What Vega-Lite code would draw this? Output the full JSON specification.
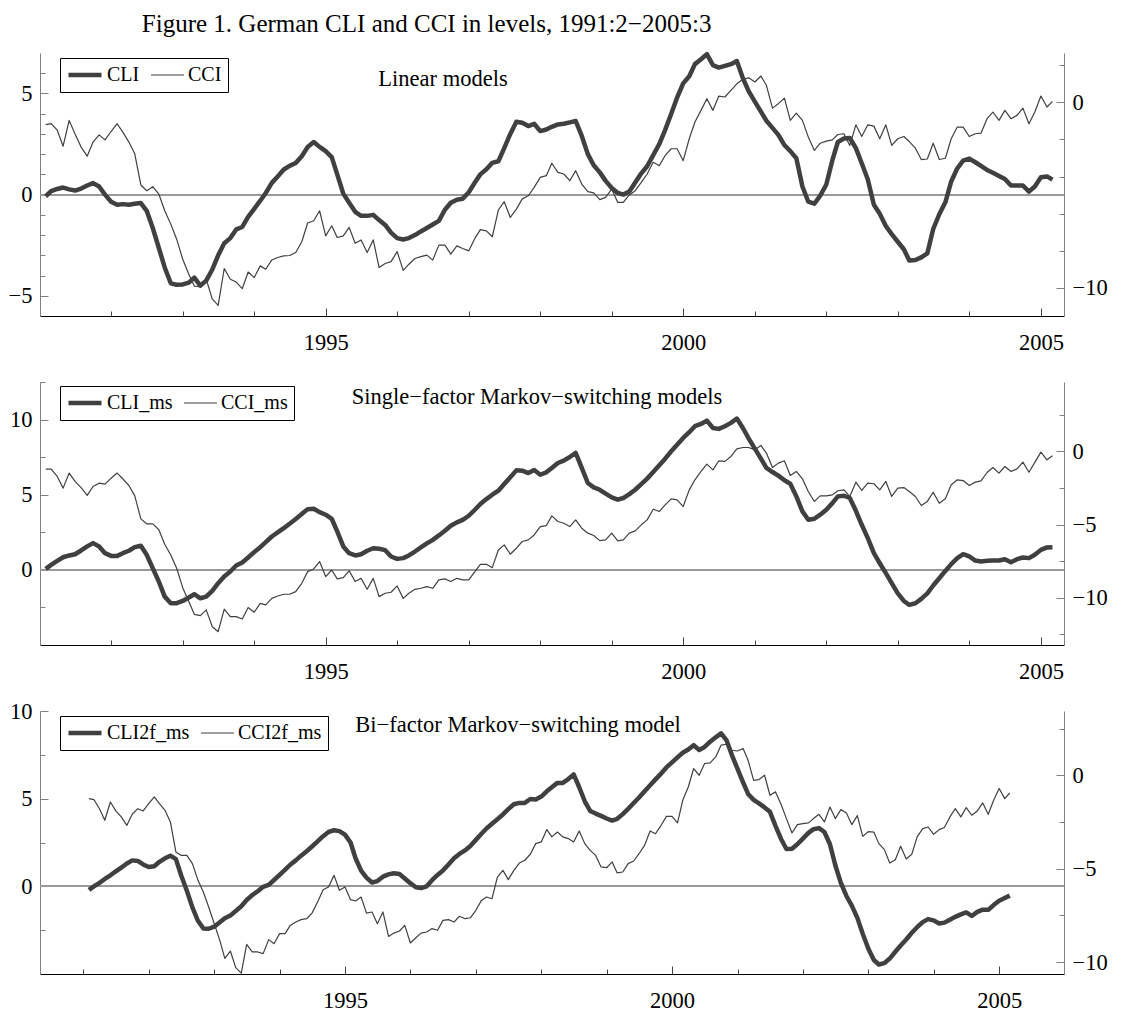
{
"$schema": "https://vega.github.io/schema/vega-lite/v6.json",
"padding": {"left": 8, "top": 11, "right": 5, "bottom": 5},
"title": {"text": "Figure 1. German CLI and CCI in levels, 1991:2−2005:3", "anchor": "middle", "dx": -131, "offset": 15, "font": "Liberation Serif", "fontSize": 25, "fontWeight": "normal", "color": "#000000"},
"data": {"values": [
{"t":"1991-02-01","CLI":-0.08,"CCI":-1.2,"CLI_ms":0.07,"CCI_ms":-1.21,"CLI2f_ms":-0.2,"CCI2f_ms":-1.25},
{"t":"1991-03-01","CLI":0.17,"CCI":-1.15,"CLI_ms":0.33,"CCI_ms":-1.21,"CLI2f_ms":0.0,"CCI2f_ms":-1.3},
{"t":"1991-04-01","CLI":0.28,"CCI":-1.5,"CLI_ms":0.6,"CCI_ms":-1.71,"CLI2f_ms":0.2,"CCI2f_ms":-1.79},
{"t":"1991-05-01","CLI":0.35,"CCI":-2.36,"CLI_ms":0.84,"CCI_ms":-2.51,"CLI2f_ms":0.42,"CCI2f_ms":-2.41},
{"t":"1991-06-01","CLI":0.26,"CCI":-0.97,"CLI_ms":0.96,"CCI_ms":-1.48,"CLI2f_ms":0.63,"CCI2f_ms":-1.43},
{"t":"1991-07-01","CLI":0.2,"CCI":-1.7,"CLI_ms":1.04,"CCI_ms":-2.05,"CLI2f_ms":0.85,"CCI2f_ms":-1.91},
{"t":"1991-08-01","CLI":0.3,"CCI":-2.41,"CLI_ms":1.29,"CCI_ms":-2.47,"CLI2f_ms":1.07,"CCI2f_ms":-2.23},
{"t":"1991-09-01","CLI":0.45,"CCI":-2.9,"CLI_ms":1.56,"CCI_ms":-3.01,"CLI2f_ms":1.3,"CCI2f_ms":-2.68},
{"t":"1991-10-01","CLI":0.57,"CCI":-2.14,"CLI_ms":1.78,"CCI_ms":-2.4,"CLI2f_ms":1.48,"CCI2f_ms":-2.09},
{"t":"1991-11-01","CLI":0.4,"CCI":-1.75,"CLI_ms":1.56,"CCI_ms":-2.17,"CLI2f_ms":1.45,"CCI2f_ms":-1.79},
{"t":"1991-12-01","CLI":0.0,"CCI":-2.02,"CLI_ms":1.11,"CCI_ms":-2.24,"CLI2f_ms":1.25,"CCI2f_ms":-1.91},
{"t":"1992-01-01","CLI":-0.35,"CCI":-1.57,"CLI_ms":0.93,"CCI_ms":-1.83,"CLI2f_ms":1.1,"CCI2f_ms":-1.52},
{"t":"1992-02-01","CLI":-0.5,"CCI":-1.15,"CLI_ms":0.93,"CCI_ms":-1.48,"CLI2f_ms":1.15,"CCI2f_ms":-1.16},
{"t":"1992-03-01","CLI":-0.47,"CCI":-1.6,"CLI_ms":1.11,"CCI_ms":-1.87,"CLI2f_ms":1.4,"CCI2f_ms":-1.52},
{"t":"1992-04-01","CLI":-0.5,"CCI":-2.14,"CLI_ms":1.27,"CCI_ms":-2.33,"CLI2f_ms":1.6,"CCI2f_ms":-1.88},
{"t":"1992-05-01","CLI":-0.45,"CCI":-2.77,"CLI_ms":1.51,"CCI_ms":-3.04,"CLI2f_ms":1.75,"CCI2f_ms":-2.5},
{"t":"1992-06-01","CLI":-0.42,"CCI":-4.45,"CLI_ms":1.6,"CCI_ms":-4.61,"CLI2f_ms":1.55,"CCI2f_ms":-4.11},
{"t":"1992-07-01","CLI":-0.8,"CCI":-4.76,"CLI_ms":1.0,"CCI_ms":-4.95,"CLI2f_ms":0.6,"CCI2f_ms":-4.29},
{"t":"1992-08-01","CLI":-1.65,"CCI":-4.54,"CLI_ms":0.11,"CCI_ms":-4.95,"CLI2f_ms":-0.25,"CCI2f_ms":-4.29},
{"t":"1992-09-01","CLI":-2.64,"CCI":-4.94,"CLI_ms":-0.78,"CCI_ms":-5.36,"CLI2f_ms":-1.2,"CCI2f_ms":-4.73},
{"t":"1992-10-01","CLI":-3.6,"CCI":-5.84,"CLI_ms":-1.78,"CCI_ms":-6.35,"CLI2f_ms":-1.95,"CCI2f_ms":-5.59},
{"t":"1992-11-01","CLI":-4.38,"CCI":-6.56,"CLI_ms":-2.22,"CCI_ms":-7.08,"CLI2f_ms":-2.4,"CCI2f_ms":-6.25},
{"t":"1992-12-01","CLI":-4.46,"CCI":-7.37,"CLI_ms":-2.22,"CCI_ms":-7.99,"CLI2f_ms":-2.42,"CCI2f_ms":-7.05},
{"t":"1993-01-01","CLI":-4.44,"CCI":-8.45,"CLI_ms":-2.07,"CCI_ms":-9.32,"CLI2f_ms":-2.3,"CCI2f_ms":-7.95},
{"t":"1993-02-01","CLI":-4.35,"CCI":-9.26,"CLI_ms":-1.84,"CCI_ms":-10.27,"CLI2f_ms":-2.05,"CCI2f_ms":-8.84},
{"t":"1993-03-01","CLI":-4.1,"CCI":-9.9,"CLI_ms":-1.62,"CCI_ms":-11.14,"CLI2f_ms":-1.82,"CCI2f_ms":-9.8},
{"t":"1993-04-01","CLI":-4.5,"CCI":-9.93,"CLI_ms":-1.89,"CCI_ms":-11.23,"CLI2f_ms":-1.66,"CCI2f_ms":-9.41},
{"t":"1993-05-01","CLI":-4.25,"CCI":-9.53,"CLI_ms":-1.78,"CCI_ms":-10.84,"CLI2f_ms":-1.41,"CCI2f_ms":-10.3},
{"t":"1993-06-01","CLI":-3.7,"CCI":-10.6,"CLI_ms":-1.4,"CCI_ms":-11.99,"CLI2f_ms":-1.14,"CCI2f_ms":-10.59},
{"t":"1993-07-01","CLI":-3.0,"CCI":-10.94,"CLI_ms":-0.89,"CCI_ms":-12.33,"CLI2f_ms":-0.78,"CCI2f_ms":-9.05},
{"t":"1993-08-01","CLI":-2.4,"CCI":-8.95,"CLI_ms":-0.44,"CCI_ms":-10.78,"CLI2f_ms":-0.5,"CCI2f_ms":-9.46},
{"t":"1993-09-01","CLI":-2.15,"CCI":-9.53,"CLI_ms":-0.11,"CCI_ms":-11.3,"CLI2f_ms":-0.28,"CCI2f_ms":-9.46},
{"t":"1993-10-01","CLI":-1.72,"CCI":-9.68,"CLI_ms":0.29,"CCI_ms":-11.3,"CLI2f_ms":-0.03,"CCI2f_ms":-9.55},
{"t":"1993-11-01","CLI":-1.6,"CCI":-10.04,"CLI_ms":0.49,"CCI_ms":-11.46,"CLI2f_ms":0.08,"CCI2f_ms":-8.8},
{"t":"1993-12-01","CLI":-1.1,"CCI":-9.14,"CLI_ms":0.82,"CCI_ms":-10.68,"CLI2f_ms":0.36,"CCI2f_ms":-9.02},
{"t":"1994-01-01","CLI":-0.7,"CCI":-9.44,"CLI_ms":1.18,"CCI_ms":-11.0,"CLI2f_ms":0.66,"CCI2f_ms":-8.48},
{"t":"1994-02-01","CLI":-0.3,"CCI":-8.81,"CLI_ms":1.51,"CCI_ms":-10.39,"CLI2f_ms":0.95,"CCI2f_ms":-8.48},
{"t":"1994-03-01","CLI":0.08,"CCI":-8.99,"CLI_ms":1.84,"CCI_ms":-10.5,"CLI2f_ms":1.23,"CCI2f_ms":-8.04},
{"t":"1994-04-01","CLI":0.58,"CCI":-8.49,"CLI_ms":2.22,"CCI_ms":-10.05,"CLI2f_ms":1.48,"CCI2f_ms":-7.86},
{"t":"1994-05-01","CLI":0.9,"CCI":-8.36,"CLI_ms":2.49,"CCI_ms":-9.89,"CLI2f_ms":1.75,"CCI2f_ms":-7.73},
{"t":"1994-06-01","CLI":1.24,"CCI":-8.27,"CLI_ms":2.78,"CCI_ms":-9.77,"CLI2f_ms":2.0,"CCI2f_ms":-7.68},
{"t":"1994-07-01","CLI":1.42,"CCI":-8.25,"CLI_ms":3.07,"CCI_ms":-9.77,"CLI2f_ms":2.27,"CCI2f_ms":-7.38},
{"t":"1994-08-01","CLI":1.56,"CCI":-8.09,"CLI_ms":3.38,"CCI_ms":-9.59,"CLI2f_ms":2.56,"CCI2f_ms":-6.79},
{"t":"1994-09-01","CLI":1.9,"CCI":-7.51,"CLI_ms":3.71,"CCI_ms":-9.02,"CLI2f_ms":2.86,"CCI2f_ms":-6.13},
{"t":"1994-10-01","CLI":2.35,"CCI":-6.5,"CLI_ms":4.04,"CCI_ms":-8.22,"CLI2f_ms":3.1,"CCI2f_ms":-5.98},
{"t":"1994-11-01","CLI":2.6,"CCI":-6.38,"CLI_ms":4.07,"CCI_ms":-8.04,"CLI2f_ms":3.2,"CCI2f_ms":-5.36},
{"t":"1994-12-01","CLI":2.36,"CCI":-5.84,"CLI_ms":3.84,"CCI_ms":-7.53,"CLI2f_ms":3.15,"CCI2f_ms":-6.16},
{"t":"1995-01-01","CLI":2.15,"CCI":-7.19,"CLI_ms":3.67,"CCI_ms":-8.56,"CLI2f_ms":2.95,"CCI2f_ms":-5.98},
{"t":"1995-02-01","CLI":1.85,"CCI":-6.65,"CLI_ms":3.4,"CCI_ms":-8.11,"CLI2f_ms":2.5,"CCI2f_ms":-6.66},
{"t":"1995-03-01","CLI":1.0,"CCI":-7.28,"CLI_ms":2.56,"CCI_ms":-8.72,"CLI2f_ms":1.6,"CCI2f_ms":-6.73},
{"t":"1995-04-01","CLI":0.05,"CCI":-7.19,"CLI_ms":1.56,"CCI_ms":-8.63,"CLI2f_ms":0.9,"CCI2f_ms":-6.52},
{"t":"1995-05-01","CLI":-0.4,"CCI":-6.74,"CLI_ms":1.11,"CCI_ms":-8.17,"CLI2f_ms":0.5,"CCI2f_ms":-7.38},
{"t":"1995-06-01","CLI":-0.85,"CCI":-7.59,"CLI_ms":0.96,"CCI_ms":-8.9,"CLI2f_ms":0.22,"CCI2f_ms":-7.32},
{"t":"1995-07-01","CLI":-1.05,"CCI":-7.41,"CLI_ms":1.04,"CCI_ms":-8.68,"CLI2f_ms":0.3,"CCI2f_ms":-7.95},
{"t":"1995-08-01","CLI":-1.05,"CCI":-8.09,"CLI_ms":1.27,"CCI_ms":-9.43,"CLI2f_ms":0.55,"CCI2f_ms":-7.32},
{"t":"1995-09-01","CLI":-1.0,"CCI":-7.41,"CLI_ms":1.44,"CCI_ms":-8.68,"CLI2f_ms":0.68,"CCI2f_ms":-8.63},
{"t":"1995-10-01","CLI":-1.26,"CCI":-8.9,"CLI_ms":1.4,"CCI_ms":-9.93,"CLI2f_ms":0.75,"CCI2f_ms":-8.45},
{"t":"1995-11-01","CLI":-1.5,"CCI":-8.68,"CLI_ms":1.31,"CCI_ms":-9.7,"CLI2f_ms":0.7,"CCI2f_ms":-8.34},
{"t":"1995-12-01","CLI":-1.88,"CCI":-8.58,"CLI_ms":0.89,"CCI_ms":-9.63,"CLI2f_ms":0.45,"CCI2f_ms":-8.04},
{"t":"1996-01-01","CLI":-2.15,"CCI":-8.04,"CLI_ms":0.73,"CCI_ms":-9.2,"CLI2f_ms":0.18,"CCI2f_ms":-8.98},
{"t":"1996-02-01","CLI":-2.22,"CCI":-9.05,"CLI_ms":0.78,"CCI_ms":-10.05,"CLI2f_ms":-0.05,"CCI2f_ms":-8.7},
{"t":"1996-03-01","CLI":-2.15,"CCI":-8.72,"CLI_ms":0.96,"CCI_ms":-9.7,"CLI2f_ms":-0.1,"CCI2f_ms":-8.45},
{"t":"1996-04-01","CLI":-2.0,"CCI":-8.41,"CLI_ms":1.22,"CCI_ms":-9.43,"CLI2f_ms":0.0,"CCI2f_ms":-8.39},
{"t":"1996-05-01","CLI":-1.82,"CCI":-8.31,"CLI_ms":1.49,"CCI_ms":-9.36,"CLI2f_ms":0.35,"CCI2f_ms":-8.21},
{"t":"1996-06-01","CLI":-1.65,"CCI":-8.23,"CLI_ms":1.76,"CCI_ms":-9.25,"CLI2f_ms":0.65,"CCI2f_ms":-8.3},
{"t":"1996-07-01","CLI":-1.48,"CCI":-8.5,"CLI_ms":2.0,"CCI_ms":-9.36,"CLI2f_ms":0.9,"CCI2f_ms":-7.77},
{"t":"1996-08-01","CLI":-1.3,"CCI":-7.69,"CLI_ms":2.29,"CCI_ms":-8.79,"CLI2f_ms":1.25,"CCI2f_ms":-7.73},
{"t":"1996-09-01","CLI":-0.75,"CCI":-7.69,"CLI_ms":2.6,"CCI_ms":-8.72,"CLI2f_ms":1.6,"CCI2f_ms":-7.86},
{"t":"1996-10-01","CLI":-0.4,"CCI":-8.18,"CLI_ms":2.93,"CCI_ms":-8.9,"CLI2f_ms":1.85,"CCI2f_ms":-7.55},
{"t":"1996-11-01","CLI":-0.25,"CCI":-7.73,"CLI_ms":3.16,"CCI_ms":-8.68,"CLI2f_ms":2.05,"CCI2f_ms":-7.68},
{"t":"1996-12-01","CLI":-0.2,"CCI":-7.87,"CLI_ms":3.33,"CCI_ms":-8.79,"CLI2f_ms":2.3,"CCI2f_ms":-7.63},
{"t":"1997-01-01","CLI":0.12,"CCI":-8.0,"CLI_ms":3.6,"CCI_ms":-8.79,"CLI2f_ms":2.65,"CCI2f_ms":-7.23},
{"t":"1997-02-01","CLI":0.6,"CCI":-7.33,"CLI_ms":4.0,"CCI_ms":-8.22,"CLI2f_ms":3.0,"CCI2f_ms":-6.7},
{"t":"1997-03-01","CLI":1.0,"CCI":-6.86,"CLI_ms":4.38,"CCI_ms":-7.72,"CLI2f_ms":3.3,"CCI2f_ms":-6.52},
{"t":"1997-04-01","CLI":1.25,"CCI":-6.92,"CLI_ms":4.71,"CCI_ms":-7.72,"CLI2f_ms":3.57,"CCI2f_ms":-6.61},
{"t":"1997-05-01","CLI":1.57,"CCI":-7.24,"CLI_ms":5.0,"CCI_ms":-7.95,"CLI2f_ms":3.83,"CCI2f_ms":-5.45},
{"t":"1997-06-01","CLI":1.65,"CCI":-5.8,"CLI_ms":5.27,"CCI_ms":-6.74,"CLI2f_ms":4.1,"CCI2f_ms":-5.09},
{"t":"1997-07-01","CLI":2.3,"CCI":-5.35,"CLI_ms":5.71,"CCI_ms":-6.39,"CLI2f_ms":4.4,"CCI2f_ms":-5.59},
{"t":"1997-08-01","CLI":3.0,"CCI":-6.2,"CLI_ms":6.16,"CCI_ms":-7.03,"CLI2f_ms":4.68,"CCI2f_ms":-5.09},
{"t":"1997-09-01","CLI":3.6,"CCI":-5.75,"CLI_ms":6.62,"CCI_ms":-6.62,"CLI2f_ms":4.76,"CCI2f_ms":-4.7},
{"t":"1997-10-01","CLI":3.55,"CCI":-5.2,"CLI_ms":6.6,"CCI_ms":-6.16,"CLI2f_ms":4.76,"CCI2f_ms":-4.55},
{"t":"1997-11-01","CLI":3.39,"CCI":-5.03,"CLI_ms":6.44,"CCI_ms":-6.05,"CLI2f_ms":4.98,"CCI2f_ms":-4.23},
{"t":"1997-12-01","CLI":3.5,"CCI":-4.58,"CLI_ms":6.64,"CCI_ms":-5.71,"CLI2f_ms":4.95,"CCI2f_ms":-3.66},
{"t":"1998-01-01","CLI":3.14,"CCI":-4.04,"CLI_ms":6.33,"CCI_ms":-5.14,"CLI2f_ms":5.12,"CCI2f_ms":-3.57},
{"t":"1998-02-01","CLI":3.22,"CCI":-3.95,"CLI_ms":6.49,"CCI_ms":-5.07,"CLI2f_ms":5.42,"CCI2f_ms":-2.91},
{"t":"1998-03-01","CLI":3.35,"CCI":-3.28,"CLI_ms":6.78,"CCI_ms":-4.41,"CLI2f_ms":5.65,"CCI2f_ms":-3.3},
{"t":"1998-04-01","CLI":3.47,"CCI":-3.77,"CLI_ms":7.11,"CCI_ms":-4.79,"CLI2f_ms":5.9,"CCI2f_ms":-3.04},
{"t":"1998-05-01","CLI":3.5,"CCI":-3.86,"CLI_ms":7.27,"CCI_ms":-4.91,"CLI2f_ms":5.9,"CCI2f_ms":-3.3},
{"t":"1998-06-01","CLI":3.57,"CCI":-4.22,"CLI_ms":7.51,"CCI_ms":-5.14,"CLI2f_ms":6.12,"CCI2f_ms":-3.39},
{"t":"1998-07-01","CLI":3.64,"CCI":-3.68,"CLI_ms":7.78,"CCI_ms":-4.68,"CLI2f_ms":6.38,"CCI2f_ms":-3.57},
{"t":"1998-08-01","CLI":2.9,"CCI":-4.4,"CLI_ms":6.78,"CCI_ms":-5.25,"CLI2f_ms":5.65,"CCI2f_ms":-2.98},
{"t":"1998-09-01","CLI":2.0,"CCI":-4.81,"CLI_ms":5.78,"CCI_ms":-5.59,"CLI2f_ms":4.85,"CCI2f_ms":-3.66},
{"t":"1998-10-01","CLI":1.45,"CCI":-4.88,"CLI_ms":5.49,"CCI_ms":-5.75,"CLI2f_ms":4.3,"CCI2f_ms":-4.02},
{"t":"1998-11-01","CLI":1.1,"CCI":-5.24,"CLI_ms":5.33,"CCI_ms":-6.1,"CLI2f_ms":4.15,"CCI2f_ms":-4.29},
{"t":"1998-12-01","CLI":0.68,"CCI":-5.12,"CLI_ms":5.07,"CCI_ms":-6.05,"CLI2f_ms":4.02,"CCI2f_ms":-4.91},
{"t":"1999-01-01","CLI":0.33,"CCI":-4.67,"CLI_ms":4.82,"CCI_ms":-5.59,"CLI2f_ms":3.87,"CCI2f_ms":-4.95},
{"t":"1999-02-01","CLI":0.08,"CCI":-5.39,"CLI_ms":4.67,"CCI_ms":-6.12,"CLI2f_ms":3.75,"CCI2f_ms":-4.64},
{"t":"1999-03-01","CLI":0.0,"CCI":-5.39,"CLI_ms":4.78,"CCI_ms":-6.05,"CLI2f_ms":3.85,"CCI2f_ms":-5.23},
{"t":"1999-04-01","CLI":0.15,"CCI":-4.99,"CLI_ms":5.04,"CCI_ms":-5.59,"CLI2f_ms":4.12,"CCI2f_ms":-5.18},
{"t":"1999-05-01","CLI":0.6,"CCI":-4.76,"CLI_ms":5.33,"CCI_ms":-5.43,"CLI2f_ms":4.42,"CCI2f_ms":-4.73},
{"t":"1999-06-01","CLI":1.05,"CCI":-4.31,"CLI_ms":5.71,"CCI_ms":-5.02,"CLI2f_ms":4.75,"CCI2f_ms":-4.59},
{"t":"1999-07-01","CLI":1.4,"CCI":-3.86,"CLI_ms":6.07,"CCI_ms":-4.68,"CLI2f_ms":5.07,"CCI2f_ms":-4.2},
{"t":"1999-08-01","CLI":1.95,"CCI":-3.23,"CLI_ms":6.51,"CCI_ms":-3.95,"CLI2f_ms":5.42,"CCI2f_ms":-3.75},
{"t":"1999-09-01","CLI":2.5,"CCI":-3.41,"CLI_ms":6.96,"CCI_ms":-4.11,"CLI2f_ms":5.77,"CCI2f_ms":-2.98},
{"t":"1999-10-01","CLI":3.2,"CCI":-2.86,"CLI_ms":7.4,"CCI_ms":-3.65,"CLI2f_ms":6.1,"CCI2f_ms":-3.13},
{"t":"1999-11-01","CLI":4.0,"CCI":-2.5,"CLI_ms":7.89,"CCI_ms":-3.24,"CLI2f_ms":6.43,"CCI2f_ms":-2.68},
{"t":"1999-12-01","CLI":4.8,"CCI":-2.5,"CLI_ms":8.33,"CCI_ms":-3.31,"CLI2f_ms":6.78,"CCI2f_ms":-2.2},
{"t":"2000-01-01","CLI":5.5,"CCI":-3.14,"CLI_ms":8.78,"CCI_ms":-3.77,"CLI2f_ms":7.07,"CCI2f_ms":-2.2},
{"t":"2000-02-01","CLI":5.85,"CCI":-1.96,"CLI_ms":9.16,"CCI_ms":-2.63,"CLI2f_ms":7.36,"CCI2f_ms":-2.55},
{"t":"2000-03-01","CLI":6.45,"CCI":-1.06,"CLI_ms":9.56,"CCI_ms":-1.94,"CLI2f_ms":7.62,"CCI2f_ms":-1.34},
{"t":"2000-04-01","CLI":6.69,"CCI":-0.43,"CLI_ms":9.71,"CCI_ms":-1.37,"CLI2f_ms":7.8,"CCI2f_ms":-0.63},
{"t":"2000-05-01","CLI":6.94,"CCI":0.2,"CLI_ms":9.93,"CCI_ms":-0.87,"CLI2f_ms":8.05,"CCI2f_ms":0.36},
{"t":"2000-06-01","CLI":6.4,"CCI":-0.43,"CLI_ms":9.44,"CCI_ms":-1.26,"CLI2f_ms":7.78,"CCI2f_ms":0.0},
{"t":"2000-07-01","CLI":6.28,"CCI":0.34,"CLI_ms":9.38,"CCI_ms":-0.64,"CLI2f_ms":7.95,"CCI2f_ms":0.63},
{"t":"2000-08-01","CLI":6.36,"CCI":0.29,"CLI_ms":9.56,"CCI_ms":-0.68,"CLI2f_ms":8.25,"CCI2f_ms":0.66},
{"t":"2000-09-01","CLI":6.45,"CCI":0.65,"CLI_ms":9.78,"CCI_ms":-0.34,"CLI2f_ms":8.5,"CCI2f_ms":0.98},
{"t":"2000-10-01","CLI":6.6,"CCI":1.0,"CLI_ms":10.07,"CCI_ms":0.18,"CLI2f_ms":8.72,"CCI2f_ms":1.61},
{"t":"2000-11-01","CLI":5.75,"CCI":1.24,"CLI_ms":9.44,"CCI_ms":0.27,"CLI2f_ms":8.32,"CCI2f_ms":1.66},
{"t":"2000-12-01","CLI":5.1,"CCI":1.32,"CLI_ms":8.73,"CCI_ms":0.27,"CLI2f_ms":7.47,"CCI2f_ms":1.34},
{"t":"2001-01-01","CLI":4.6,"CCI":1.1,"CLI_ms":8.07,"CCI_ms":0.11,"CLI2f_ms":6.7,"CCI2f_ms":1.3},
{"t":"2001-02-01","CLI":4.1,"CCI":1.42,"CLI_ms":7.4,"CCI_ms":0.41,"CLI2f_ms":5.93,"CCI2f_ms":1.43},
{"t":"2001-03-01","CLI":3.65,"CCI":0.92,"CLI_ms":6.78,"CCI_ms":-0.11,"CLI2f_ms":5.27,"CCI2f_ms":0.8},
{"t":"2001-04-01","CLI":3.3,"CCI":-0.31,"CLI_ms":6.51,"CCI_ms":-1.1,"CLI2f_ms":4.93,"CCI2f_ms":-0.27},
{"t":"2001-05-01","CLI":2.95,"CCI":-0.07,"CLI_ms":6.27,"CCI_ms":-0.8,"CLI2f_ms":4.73,"CCI2f_ms":-0.23},
{"t":"2001-06-01","CLI":2.45,"CCI":0.23,"CLI_ms":5.96,"CCI_ms":-0.64,"CLI2f_ms":4.5,"CCI2f_ms":0.0},
{"t":"2001-07-01","CLI":2.15,"CCI":-0.97,"CLI_ms":5.73,"CCI_ms":-1.64,"CLI2f_ms":4.25,"CCI2f_ms":-1.07},
{"t":"2001-08-01","CLI":1.8,"CCI":-0.58,"CLI_ms":4.89,"CCI_ms":-1.37,"CLI2f_ms":3.45,"CCI2f_ms":-0.89},
{"t":"2001-09-01","CLI":0.4,"CCI":-0.97,"CLI_ms":3.89,"CCI_ms":-1.87,"CLI2f_ms":2.7,"CCI2f_ms":-1.55},
{"t":"2001-10-01","CLI":-0.35,"CCI":-1.87,"CLI_ms":3.33,"CCI_ms":-2.74,"CLI2f_ms":2.13,"CCI2f_ms":-2.32},
{"t":"2001-11-01","CLI":-0.45,"CCI":-2.59,"CLI_ms":3.4,"CCI_ms":-3.42,"CLI2f_ms":2.15,"CCI2f_ms":-3.09},
{"t":"2001-12-01","CLI":-0.05,"CCI":-2.2,"CLI_ms":3.67,"CCI_ms":-3.04,"CLI2f_ms":2.4,"CCI2f_ms":-2.64},
{"t":"2002-01-01","CLI":0.5,"CCI":-2.09,"CLI_ms":4.0,"CCI_ms":-3.04,"CLI2f_ms":2.72,"CCI2f_ms":-2.59},
{"t":"2002-02-01","CLI":1.7,"CCI":-2.02,"CLI_ms":4.44,"CCI_ms":-2.97,"CLI2f_ms":3.05,"CCI2f_ms":-2.55},
{"t":"2002-03-01","CLI":2.6,"CCI":-1.73,"CLI_ms":4.89,"CCI_ms":-2.69,"CLI2f_ms":3.26,"CCI2f_ms":-2.32},
{"t":"2002-04-01","CLI":2.77,"CCI":-1.69,"CLI_ms":4.93,"CCI_ms":-2.63,"CLI2f_ms":3.32,"CCI2f_ms":-2.09},
{"t":"2002-05-01","CLI":2.8,"CCI":-2.32,"CLI_ms":4.78,"CCI_ms":-3.08,"CLI2f_ms":3.1,"CCI2f_ms":-2.5},
{"t":"2002-06-01","CLI":2.3,"CCI":-1.21,"CLI_ms":3.93,"CCI_ms":-2.1,"CLI2f_ms":2.4,"CCI2f_ms":-1.7},
{"t":"2002-07-01","CLI":1.55,"CCI":-1.84,"CLI_ms":3.0,"CCI_ms":-2.67,"CLI2f_ms":1.2,"CCI2f_ms":-2.32},
{"t":"2002-08-01","CLI":0.75,"CCI":-1.21,"CLI_ms":2.11,"CCI_ms":-2.17,"CLI2f_ms":0.2,"CCI2f_ms":-1.84},
{"t":"2002-09-01","CLI":-0.5,"CCI":-1.28,"CLI_ms":1.11,"CCI_ms":-2.21,"CLI2f_ms":-0.55,"CCI2f_ms":-2.02},
{"t":"2002-10-01","CLI":-0.95,"CCI":-1.96,"CLI_ms":0.44,"CCI_ms":-2.63,"CLI2f_ms":-1.1,"CCI2f_ms":-2.64},
{"t":"2002-11-01","CLI":-1.55,"CCI":-1.21,"CLI_ms":-0.22,"CCI_ms":-2.05,"CLI2f_ms":-1.8,"CCI2f_ms":-2.16},
{"t":"2002-12-01","CLI":-1.95,"CCI":-2.32,"CLI_ms":-0.89,"CCI_ms":-3.08,"CLI2f_ms":-2.7,"CCI2f_ms":-3.27},
{"t":"2003-01-01","CLI":-2.33,"CCI":-1.96,"CLI_ms":-1.56,"CCI_ms":-2.51,"CLI2f_ms":-3.55,"CCI2f_ms":-3.02},
{"t":"2003-02-01","CLI":-2.7,"CCI":-1.84,"CLI_ms":-2.07,"CCI_ms":-2.47,"CLI2f_ms":-4.2,"CCI2f_ms":-3.04},
{"t":"2003-03-01","CLI":-3.26,"CCI":-2.11,"CLI_ms":-2.33,"CCI_ms":-2.74,"CLI2f_ms":-4.46,"CCI2f_ms":-3.66},
{"t":"2003-04-01","CLI":-3.23,"CCI":-2.47,"CLI_ms":-2.22,"CCI_ms":-3.08,"CLI2f_ms":-4.38,"CCI2f_ms":-3.98},
{"t":"2003-05-01","CLI":-3.1,"CCI":-3.08,"CLI_ms":-1.93,"CCI_ms":-3.7,"CLI2f_ms":-4.12,"CCI2f_ms":-4.7},
{"t":"2003-06-01","CLI":-2.9,"CCI":-3.05,"CLI_ms":-1.56,"CCI_ms":-3.42,"CLI2f_ms":-3.73,"CCI2f_ms":-4.52},
{"t":"2003-07-01","CLI":-1.7,"CCI":-2.2,"CLI_ms":-1.04,"CCI_ms":-2.79,"CLI2f_ms":-3.37,"CCI2f_ms":-3.8},
{"t":"2003-08-01","CLI":-0.97,"CCI":-3.08,"CLI_ms":-0.56,"CCI_ms":-3.54,"CLI2f_ms":-3.03,"CCI2f_ms":-4.48},
{"t":"2003-09-01","CLI":-0.38,"CCI":-3.01,"CLI_ms":-0.07,"CCI_ms":-3.24,"CLI2f_ms":-2.65,"CCI2f_ms":-4.23},
{"t":"2003-10-01","CLI":0.65,"CCI":-1.96,"CLI_ms":0.38,"CCI_ms":-2.28,"CLI2f_ms":-2.33,"CCI2f_ms":-3.3},
{"t":"2003-11-01","CLI":1.3,"CCI":-1.33,"CLI_ms":0.78,"CCI_ms":-1.94,"CLI2f_ms":-2.04,"CCI2f_ms":-2.86},
{"t":"2003-12-01","CLI":1.68,"CCI":-1.33,"CLI_ms":1.04,"CCI_ms":-1.99,"CLI2f_ms":-1.87,"CCI2f_ms":-2.77},
{"t":"2004-01-01","CLI":1.78,"CCI":-1.84,"CLI_ms":0.89,"CCI_ms":-2.33,"CLI2f_ms":-1.94,"CCI2f_ms":-3.16},
{"t":"2004-02-01","CLI":1.6,"CCI":-1.69,"CLI_ms":0.62,"CCI_ms":-2.1,"CLI2f_ms":-2.12,"CCI2f_ms":-2.91},
{"t":"2004-03-01","CLI":1.42,"CCI":-1.66,"CLI_ms":0.56,"CCI_ms":-2.01,"CLI2f_ms":-2.07,"CCI2f_ms":-2.8},
{"t":"2004-04-01","CLI":1.22,"CCI":-0.88,"CLI_ms":0.6,"CCI_ms":-1.44,"CLI2f_ms":-1.9,"CCI2f_ms":-2.23},
{"t":"2004-05-01","CLI":1.08,"CCI":-0.52,"CLI_ms":0.62,"CCI_ms":-1.1,"CLI2f_ms":-1.74,"CCI2f_ms":-1.79},
{"t":"2004-06-01","CLI":0.92,"CCI":-0.97,"CLI_ms":0.62,"CCI_ms":-1.48,"CLI2f_ms":-1.6,"CCI2f_ms":-2.23},
{"t":"2004-07-01","CLI":0.77,"CCI":-0.43,"CLI_ms":0.71,"CCI_ms":-1.03,"CLI2f_ms":-1.49,"CCI2f_ms":-1.73},
{"t":"2004-08-01","CLI":0.45,"CCI":-0.88,"CLI_ms":0.51,"CCI_ms":-1.37,"CLI2f_ms":-1.69,"CCI2f_ms":-2.14},
{"t":"2004-09-01","CLI":0.45,"CCI":-0.7,"CLI_ms":0.71,"CCI_ms":-1.19,"CLI2f_ms":-1.46,"CCI2f_ms":-1.91},
{"t":"2004-10-01","CLI":0.45,"CCI":-0.31,"CLI_ms":0.82,"CCI_ms":-0.73,"CLI2f_ms":-1.33,"CCI2f_ms":-1.48},
{"t":"2004-11-01","CLI":0.15,"CCI":-1.15,"CLI_ms":0.78,"CCI_ms":-1.42,"CLI2f_ms":-1.34,"CCI2f_ms":-2.09},
{"t":"2004-12-01","CLI":0.4,"CCI":-0.52,"CLI_ms":1.0,"CCI_ms":-0.75,"CLI2f_ms":-1.07,"CCI2f_ms":-1.34},
{"t":"2005-01-01","CLI":0.86,"CCI":0.34,"CLI_ms":1.33,"CCI_ms":-0.05,"CLI2f_ms":-0.82,"CCI2f_ms":-0.71},
{"t":"2005-02-01","CLI":0.9,"CCI":-0.25,"CLI_ms":1.49,"CCI_ms":-0.57,"CLI2f_ms":-0.67,"CCI2f_ms":-1.25},
{"t":"2005-03-01","CLI":0.74,"CCI":0.05,"CLI_ms":1.51,"CCI_ms":-0.3,"CLI2f_ms":-0.53,"CCI2f_ms":-0.95}
]},
"bounds": "flush",
"spacing": 66,
"resolve": {"scale": {"strokeWidth": "independent"}, "legend": {"strokeWidth": "independent"}},
"vconcat": [
{
"width": 1024, "height": 263,
"title": {"text": "Linear models", "anchor": "middle", "frame": "group", "dx": -109, "dy": 38.7, "offset": 0, "fontSize": 22.5},
"layer": [
{"layer": [
{"mark": {"type": "rule", "color": "#999999", "strokeWidth": 1},
"encoding": {"y": {"datum": 0, "type": "quantitative",
"axis": {"title": null, "orient": "left", "values": [-5, -4, -3, -2, -1, 0, 1, 2, 3, 4, 5, 6], "labelExpr": "datum.value % 5 === 0 ? datum.label : ''", "tickSize": {"condition": {"test": "datum.value % 5 === 0", "value": -8}, "value": -5}}}}},
{"mark": {"type": "line", "color": "#404040", "strokeJoin": "round"},
"encoding": {
"x": {"field": "t", "type": "temporal", "scale": {"domain": [{"year": 1991, "month": 1, "date": 3}, {"year": 2005, "month": 4, "date": 29}]},
"axis": {"title": null, "values": [{"year": 1992}, {"year": 1993}, {"year": 1994}, {"year": 1995}, {"year": 1996}, {"year": 1997}, {"year": 1998}, {"year": 1999}, {"year": 2000}, {"year": 2001}, {"year": 2002}, {"year": 2003}, {"year": 2004}, {"year": 2005}], "format": "%Y", "labelExpr": "year(datum.value) % 5 === 0 ? datum.label : ''", "tickSize": {"condition": {"test": "year(datum.value) % 5 === 0", "value": -8}, "value": -5}}},
"y": {"field": "CLI", "type": "quantitative", "scale": {"domain": [-6, 7], "nice": false, "zero": false},
"axis": {"title": null, "orient": "left", "values": [-5, -4, -3, -2, -1, 0, 1, 2, 3, 4, 5, 6], "labelExpr": "datum.value % 5 === 0 ? datum.label : ''", "tickSize": {"condition": {"test": "datum.value % 5 === 0", "value": -8}, "value": -5}}},
"strokeWidth": {"datum": "CLI", "type": "nominal", "scale": {"domain": ["CLI", "CCI"], "range": [4.5, 1.2]},
"legend": {"orient": "none", "legendX": 20, "legendY": 5}}
}}
]},
{"mark": {"type": "line", "color": "#404040", "strokeJoin": "round"},
"encoding": {
"x": {"field": "t", "type": "temporal",
"axis": {"title": null, "values": [{"year": 1992}, {"year": 1993}, {"year": 1994}, {"year": 1995}, {"year": 1996}, {"year": 1997}, {"year": 1998}, {"year": 1999}, {"year": 2000}, {"year": 2001}, {"year": 2002}, {"year": 2003}, {"year": 2004}, {"year": 2005}], "format": "%Y", "labelExpr": "year(datum.value) % 5 === 0 ? datum.label : ''", "tickSize": {"condition": {"test": "year(datum.value) % 5 === 0", "value": -8}, "value": -5}}},
"y": {"field": "CCI", "type": "quantitative", "scale": {"domain": [-11.51, 2.66], "nice": false, "zero": false},
"axis": {"title": null, "orient": "right", "values": [-10, -8, -6, -4, -2, 0, 2], "labelExpr": "datum.value % 10 === 0 ? datum.label : ''", "tickSize": {"condition": {"test": "datum.value % 10 === 0", "value": -8}, "value": -5}}},
"strokeWidth": {"datum": "CCI", "type": "nominal"}
}}
],
"resolve": {"scale": {"y": "independent"}}
},
{
"width": 1024, "height": 263,
"title": {"text": "Single−factor Markov−switching models", "anchor": "middle", "frame": "group", "dx": -15, "dy": 37.8, "offset": 0, "fontSize": 22.5},
"layer": [
{"layer": [
{"mark": {"type": "rule", "color": "#999999", "strokeWidth": 1},
"encoding": {"y": {"datum": 0, "type": "quantitative",
"axis": {"title": null, "orient": "left", "values": [-2.5, 0, 2.5, 5, 7.5, 10, 12.5], "labelExpr": "datum.value % 5 === 0 ? datum.label : ''", "tickSize": {"condition": {"test": "datum.value % 5 === 0", "value": -8}, "value": -5}}}}},
{"mark": {"type": "line", "color": "#404040", "strokeJoin": "round"},
"encoding": {
"x": {"field": "t", "type": "temporal", "scale": {"domain": [{"year": 1991, "month": 1, "date": 3}, {"year": 2005, "month": 4, "date": 29}]},
"axis": {"title": null, "values": [{"year": 1992}, {"year": 1993}, {"year": 1994}, {"year": 1995}, {"year": 1996}, {"year": 1997}, {"year": 1998}, {"year": 1999}, {"year": 2000}, {"year": 2001}, {"year": 2002}, {"year": 2003}, {"year": 2004}, {"year": 2005}], "format": "%Y", "labelExpr": "year(datum.value) % 5 === 0 ? datum.label : ''", "tickSize": {"condition": {"test": "year(datum.value) % 5 === 0", "value": -8}, "value": -5}}},
"y": {"field": "CLI_ms", "type": "quantitative", "scale": {"domain": [-5, 12.5], "nice": false, "zero": false},
"axis": {"title": null, "orient": "left", "values": [-2.5, 0, 2.5, 5, 7.5, 10, 12.5], "labelExpr": "datum.value % 5 === 0 ? datum.label : ''", "tickSize": {"condition": {"test": "datum.value % 5 === 0", "value": -8}, "value": -5}}},
"strokeWidth": {"datum": "CLI_ms", "type": "nominal", "scale": {"domain": ["CLI_ms", "CCI_ms"], "range": [4.5, 1.2]},
"legend": {"orient": "none", "legendX": 20, "legendY": 4}}
}}
]},
{"mark": {"type": "line", "color": "#404040", "strokeJoin": "round"},
"encoding": {
"x": {"field": "t", "type": "temporal",
"axis": {"title": null, "values": [{"year": 1992}, {"year": 1993}, {"year": 1994}, {"year": 1995}, {"year": 1996}, {"year": 1997}, {"year": 1998}, {"year": 1999}, {"year": 2000}, {"year": 2001}, {"year": 2002}, {"year": 2003}, {"year": 2004}, {"year": 2005}], "format": "%Y", "labelExpr": "year(datum.value) % 5 === 0 ? datum.label : ''", "tickSize": {"condition": {"test": "year(datum.value) % 5 === 0", "value": -8}, "value": -5}}},
"y": {"field": "CCI_ms", "type": "quantitative", "scale": {"domain": [-13.24, 4.75], "nice": false, "zero": false},
"axis": {"title": null, "orient": "right", "values": [-12.5, -10, -7.5, -5, -2.5, 0, 2.5], "labelExpr": "datum.value % 5 === 0 ? datum.label : ''", "tickSize": {"condition": {"test": "datum.value % 5 === 0", "value": -8}, "value": -5}}},
"strokeWidth": {"datum": "CCI_ms", "type": "nominal"}
}}
],
"resolve": {"scale": {"y": "independent"}}
},
{
"width": 1024, "height": 263,
"title": {"text": "Bi−factor Markov−switching model", "anchor": "middle", "frame": "group", "dx": -34, "dy": 36.5, "offset": 0, "fontSize": 22.5},
"layer": [
{"layer": [
{"mark": {"type": "rule", "color": "#999999", "strokeWidth": 1},
"encoding": {"y": {"datum": 0, "type": "quantitative",
"axis": {"title": null, "orient": "left", "values": [-2.5, 0, 2.5, 5, 7.5, 10], "labelExpr": "datum.value % 5 === 0 ? datum.label : ''", "tickSize": {"condition": {"test": "datum.value % 5 === 0", "value": -8}, "value": -5}}}}},
{"mark": {"type": "line", "color": "#404040", "strokeJoin": "round"},
"encoding": {
"x": {"field": "t", "type": "temporal", "scale": {"domain": [{"year": 1990, "month": 5, "date": 4}, {"year": 2005, "month": 12, "date": 29}]},
"axis": {"title": null, "values": [{"year": 1991}, {"year": 1992}, {"year": 1993}, {"year": 1994}, {"year": 1995}, {"year": 1996}, {"year": 1997}, {"year": 1998}, {"year": 1999}, {"year": 2000}, {"year": 2001}, {"year": 2002}, {"year": 2003}, {"year": 2004}, {"year": 2005}], "format": "%Y", "labelExpr": "year(datum.value) % 5 === 0 ? datum.label : ''", "tickSize": {"condition": {"test": "year(datum.value) % 5 === 0", "value": -8}, "value": -5}}},
"y": {"field": "CLI2f_ms", "type": "quantitative", "scale": {"domain": [-5, 10], "nice": false, "zero": false},
"axis": {"title": null, "orient": "left", "values": [-2.5, 0, 2.5, 5, 7.5, 10], "labelExpr": "datum.value % 5 === 0 ? datum.label : ''", "tickSize": {"condition": {"test": "datum.value % 5 === 0", "value": -8}, "value": -5}}},
"strokeWidth": {"datum": "CLI2f_ms", "type": "nominal", "scale": {"domain": ["CLI2f_ms", "CCI2f_ms"], "range": [4.5, 1.2]},
"legend": {"orient": "none", "legendX": 20, "legendY": 5}}
}}
]},
{"mark": {"type": "line", "color": "#404040", "strokeJoin": "round"},
"encoding": {
"x": {"field": "t", "type": "temporal",
"axis": {"title": null, "values": [{"year": 1991}, {"year": 1992}, {"year": 1993}, {"year": 1994}, {"year": 1995}, {"year": 1996}, {"year": 1997}, {"year": 1998}, {"year": 1999}, {"year": 2000}, {"year": 2001}, {"year": 2002}, {"year": 2003}, {"year": 2004}, {"year": 2005}], "format": "%Y", "labelExpr": "year(datum.value) % 5 === 0 ? datum.label : ''", "tickSize": {"condition": {"test": "year(datum.value) % 5 === 0", "value": -8}, "value": -5}}},
"y": {"field": "CCI2f_ms", "type": "quantitative", "scale": {"domain": [-10.64, 3.44], "nice": false, "zero": false},
"axis": {"title": null, "orient": "right", "values": [-10, -7.5, -5, -2.5, 0, 2.5], "labelExpr": "datum.value % 5 === 0 ? datum.label : ''", "tickSize": {"condition": {"test": "datum.value % 5 === 0", "value": -8}, "value": -5}}},
"strokeWidth": {"datum": "CCI2f_ms", "type": "nominal"}
}}
],
"resolve": {"scale": {"y": "independent"}}
}
],
"config": {
"view": {"stroke": null},
"font": "Liberation Serif",
"axis": {"labelFont": "Liberation Serif", "labelFontSize": 22.5, "labelColor": "#000000", "grid": false, "labelFlush": false, "labelOverlap": false, "labelPadding": 16, "domainColor": "#808080", "tickColor": "#808080"},
"axisX": {"labelPadding": 23, "domainColor": "#000000", "tickColor": "#444444"},
"legend": {"direction": "horizontal", "title": null, "strokeColor": "#000000", "fillColor": "#ffffff", "padding": 6, "cornerRadius": 0, "symbolType": "stroke", "symbolSize": 1089, "symbolStrokeColor": "#404040", "labelFont": "Liberation Serif", "labelFontSize": 20, "labelColor": "#000000", "labelOffset": 3, "columnPadding": 10, "clipHeight": 22, "labelLimit": 300},
"title": {"font": "Liberation Serif", "fontSize": 22.5, "fontWeight": "normal", "color": "#000000"}
}
}
